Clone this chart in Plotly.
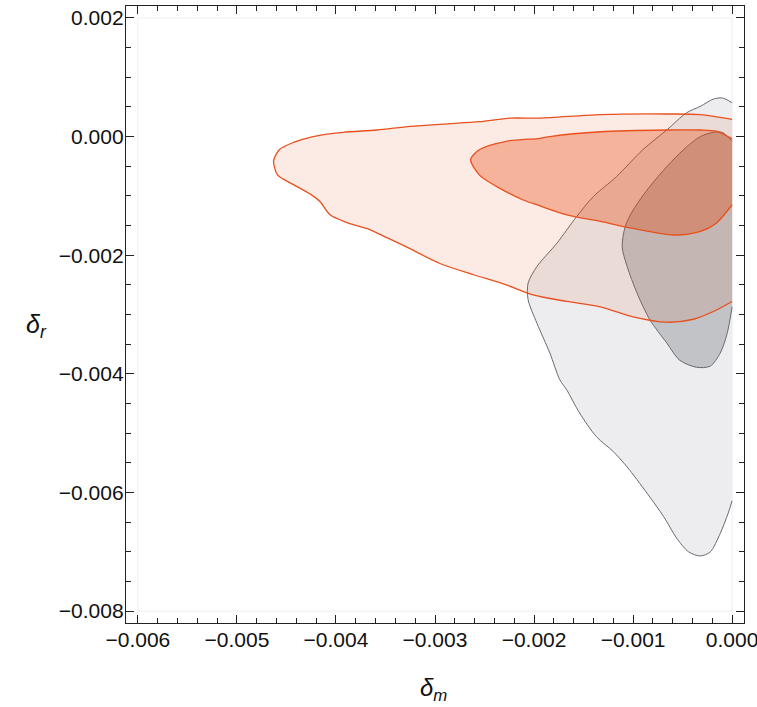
import plotly.graph_objects as go

# ---- contour boundaries (delta_m, delta_r) ----
# orange, 95% region (outer)
orange_out_x = [0.0, -0.00032, -0.00066, -0.00133, -0.00194, -0.00224, -0.00255, -0.00292,
                -0.00325, -0.00359, -0.00393, -0.00423, -0.00443, -0.00457, -0.00463,
                -0.00460, -0.00457, -0.00443, -0.00425, -0.00416, -0.00406, -0.00389,
                -0.00369, -0.00352, -0.00329, -0.00295, -0.00261, -0.00228, -0.00201,
                -0.00167, -0.00133, -0.00100, -0.00066, -0.00039, -0.00019, 0.0]
orange_out_y = [0.00029, 0.00037, 0.00038, 0.00037, 0.00031, 0.00031, 0.00025, 0.00021,
                0.00017, 0.00011, 0.00007, 0.0, -0.00010, -0.00022, -0.00041,
                -0.00062, -0.00068, -0.00081, -0.00098, -0.00110, -0.00132, -0.00145,
                -0.00155, -0.00168, -0.00186, -0.00214, -0.00233, -0.00250, -0.00267,
                -0.00278, -0.00287, -0.00304, -0.00313, -0.00308, -0.00295, -0.00278]

# orange, 68% region (inner)
orange_in_x = [0.0, -0.00016, -0.00032, -0.00066, -0.00133, -0.00184, -0.00194, -0.00228,
               -0.00255, -0.00264, -0.00255, -0.00238, -0.00211, -0.00194, -0.00167,
               -0.00133, -0.00100, -0.00059, -0.00032, -0.00016, 0.0]
orange_in_y = [-0.00004, 0.00009, 0.00011, 0.00011, 0.00008, 0.0, -0.00003, -0.00008,
               -0.00022, -0.00039, -0.00065, -0.00084, -0.00107, -0.00117, -0.00132,
               -0.00143, -0.00155, -0.00166, -0.00160, -0.00146, -0.00115]

# grey, 95% region (outer)
grey_out_x = [0.0, -0.00010, -0.00019, -0.00032, -0.00046, -0.00066, -0.00090, -0.00117,
              -0.00140, -0.00157, -0.00177, -0.00197, -0.00206, -0.00206, -0.00197,
              -0.00184, -0.00174, -0.00167, -0.00154, -0.00137, -0.00120, -0.00106,
              -0.00086, -0.00069, -0.00056, -0.00044, -0.00032, -0.00022, -0.00012,
              -0.00004, 0.0]
grey_out_y = [0.00057, 0.00065, 0.00063, 0.00051, 0.00040, 0.00011, -0.00022, -0.00068,
              -0.00101, -0.00135, -0.00180, -0.00219, -0.00247, -0.00275, -0.00315,
              -0.00365, -0.00410, -0.00427, -0.00466, -0.00506, -0.00531, -0.00557,
              -0.00601, -0.00641, -0.00677, -0.00700, -0.00707, -0.00700, -0.00669,
              -0.00635, -0.00614]

# grey, 68% region (inner)
grey_in_x = [0.0, -0.00010, -0.00019, -0.00032, -0.00049, -0.00066, -0.00083, -0.00100,
             -0.00108, -0.00111, -0.00106, -0.00096, -0.00083, -0.00066, -0.00053,
             -0.00036, -0.00022, -0.00012, -0.00005, 0.0]
grey_in_y = [-0.00008, 0.00007, 0.00007, 0.0, -0.00022, -0.00051, -0.00084, -0.00124,
             -0.00152, -0.00186, -0.00219, -0.00264, -0.00309, -0.00348, -0.00377,
             -0.00389, -0.00387, -0.00365, -0.00332, -0.00287]

x_tick_vals = [-0.006, -0.005, -0.004, -0.003, -0.002, -0.001, 0.0]
x_tick_text = ["\u22120.006", "\u22120.005", "\u22120.004", "\u22120.003", "\u22120.002", "\u22120.001", "0.000"]
y_tick_vals = [0.002, 0.0, -0.002, -0.004, -0.006, -0.008]
y_tick_text = ["0.002", "0.000", "\u22120.002", "\u22120.004", "\u22120.006", "\u22120.008"]

fig = go.Figure()

def region(xs, ys, fill):
    fig.add_trace(go.Scatter(x=xs, y=ys, mode="lines", fill="toself", fillcolor=fill,
                             line=dict(width=0, shape="spline", smoothing=0.8),
                             hoverinfo="skip", showlegend=False))

def edge(xs, ys, line_color, line_width):
    fig.add_trace(go.Scatter(x=xs, y=ys, mode="lines",
                             line=dict(color=line_color, width=line_width, shape="spline", smoothing=0.8),
                             hoverinfo="skip", showlegend=False))

grey_line = "rgb(105,106,112)"
orange_line = "rgb(233,80,30)"

# grey (drawn first)
region(grey_out_x, grey_out_y, "rgb(237,237,240)")
region(grey_in_x, grey_in_y, "rgb(193,195,199)")
edge(grey_out_x, grey_out_y, grey_line, 1)
edge(grey_in_x, grey_in_y, grey_line, 1)
# orange (translucent, on top)
region(orange_out_x, orange_out_y, "rgba(222,88,30,0.12)")
region(orange_in_x, orange_in_y, "rgba(231,62,0,0.32)")
edge(orange_out_x, orange_out_y, orange_line, 1.3)
edge(orange_in_x, orange_in_y, orange_line, 1.3)

# faint plot-range border
fig.add_shape(type="rect", x0=-0.006, x1=0.0, y0=-0.008, y1=0.002, xref="x", yref="y",
              line=dict(color="rgba(0,0,0,0.07)", width=1), layer="below")

axis_common = dict(showline=True, linecolor="#222", linewidth=1.3, mirror="allticks",
                   ticks="inside", ticklen=8, tickwidth=1.2, tickcolor="#222",
                   showgrid=False, zeroline=False, automargin=False,
                   ticklabeloverflow="allow",
                   tickfont=dict(family="Liberation Sans, Arial", size=21, color="#111"))

fig.update_xaxes(range=[-0.00612, 0.00012], tickvals=x_tick_vals, ticktext=x_tick_text,
                 ticklabelstandoff=-2,
                 minor=dict(dtick=0.0002, tick0=0, ticks="inside", ticklen=4.5, tickwidth=1,
                            tickcolor="#222", showgrid=False),
                 **axis_common)
fig.update_yaxes(range=[-0.0082, 0.0022], tickvals=y_tick_vals, ticktext=y_tick_text,
                 ticklabelstandoff=-3,
                 minor=dict(dtick=0.0005, tick0=0, ticks="inside", ticklen=4.5, tickwidth=1,
                            tickcolor="#222", showgrid=False),
                 **axis_common)

fig.add_annotation(text="<i>\u03b4<sub>m</sub></i>", xref="paper", yref="paper",
                   x=0.497, y=-0.108, xanchor="center", yanchor="middle", showarrow=False,
                   font=dict(family="Liberation Sans, Arial", size=24, color="#111"))
fig.add_annotation(text="<i>\u03b4<sub>r</sub></i>", xref="paper", yref="paper",
                   x=-0.145, y=0.481, xanchor="center", yanchor="middle", showarrow=False,
                   font=dict(family="Liberation Sans, Arial", size=25, color="#111"))

fig.update_layout(width=757, height=707, margin=dict(l=126, r=13, t=6, b=84),
                  plot_bgcolor="white", paper_bgcolor="white")

fig.write_html("out.html", config={"displayModeBar": False},
               post_script="document.body.style.margin='0px';")
